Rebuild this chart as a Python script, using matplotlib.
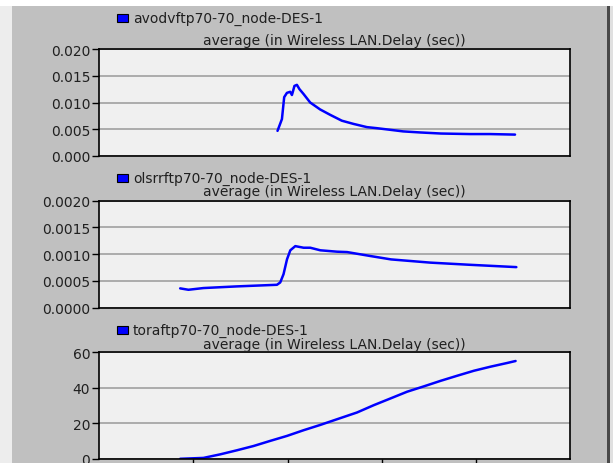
import matplotlib
matplotlib.use("Agg")
import matplotlib.pyplot as plt
from matplotlib.patches import Rectangle

# ---- data (x in arbitrary sim-time units, axis 0..5) ----
aodv_x = [1.893, 1.94, 1.964, 1.993, 2.028, 2.046, 2.056, 2.073, 2.099, 2.126, 2.169,
          2.24, 2.346, 2.452, 2.576, 2.70, 2.842, 2.948, 3.089, 3.227, 3.41, 3.63,
          3.94, 4.15, 4.416]
aodv_y = [0.0047, 0.0069, 0.0110, 0.0118, 0.0120, 0.0114, 0.0120, 0.0131, 0.0133, 0.0125,
          0.0116, 0.0100, 0.0087, 0.0077, 0.0066, 0.0060, 0.0054, 0.0052, 0.0049, 0.0046,
          0.0044, 0.0042, 0.0041, 0.0041, 0.0040]

olsr_x = [0.859, 0.947, 1.106, 1.462, 1.887, 1.922, 1.957, 1.994, 2.029, 2.082, 2.170,
          2.241, 2.348, 2.526, 2.632, 2.880, 3.099, 3.515, 3.930, 4.43]
olsr_y = [0.000359, 0.000333, 0.000365, 0.000396, 0.000426, 0.00047, 0.000624, 0.000902,
          0.00107, 0.001148, 0.001118, 0.001118, 0.00107, 0.001044, 0.001037, 0.000963,
          0.0009, 0.00084, 0.0008, 0.000756]

tora_x = [0.859, 1.106, 1.284, 1.462, 1.638, 1.816, 1.994, 2.170, 2.348, 2.526, 2.738,
          2.915, 3.093, 3.270, 3.447, 3.624, 3.802, 3.979, 4.156, 4.334, 4.422]
tora_y = [0.0, 0.5, 2.5, 4.8, 7.2, 10.1, 12.9, 16.1, 19.1, 22.3, 26.1, 30.2, 34.0, 37.8,
          40.8, 43.9, 46.8, 49.6, 51.9, 54.0, 55.1]

names = ["avodvftp70-70_node-DES-1", "olsrrftp70-70_node-DES-1", "toraftp70-70_node-DES-1"]
subtitle = "average (in Wireless LAN.Delay (sec))"
yticks = [[0, 0.005, 0.010, 0.015, 0.020],
          [0, 0.0005, 0.0010, 0.0015, 0.0020],
          [0, 20, 40, 60]]
yfmt = ["{:.3f}", "{:.4f}", "{:.0f}"]
series = [(aodv_x, aodv_y), (olsr_x, olsr_y), (tora_x, tora_y)]
xticks3 = [1, 2, 3, 4]

W, H = 613, 464
fig = plt.figure(figsize=(W / 100, H / 100), dpi=100, facecolor="white")
plt.rcParams['font.family'] = ['DejaVu Sans']

def fx(px):
    return px / W

def fy(py):
    return 1 - py / H

# background panels
fig.patches.append(Rectangle((0, 0), fx(12), fy(7), transform=fig.transFigure,
                             facecolor="#ededed", edgecolor="none", zorder=-10))
fig.patches.append(Rectangle((fx(12), 0), fx(607) - fx(12), fy(7), transform=fig.transFigure,
                             facecolor="#c0c0c0", edgecolor="none", zorder=-10))
fig.patches.append(Rectangle((fx(607), 0), fx(3), fy(7), transform=fig.transFigure,
                             facecolor="#4a4a4a", edgecolor="none", zorder=-10))
fig.patches.append(Rectangle((fx(610), 0), fx(3), fy(7), transform=fig.transFigure,
                             facecolor="#e0e0e0", edgecolor="none", zorder=-10))

tops = [50, 201.5, 353.3]
bots = [157, 308.6, 459.8]
leg_y = [19, 178.5, 330.5]
tit_y = [41.5, 192.5, 345]
left, right = 99.3, 570

for i in range(3):
    ax = fig.add_axes([fx(left), fy(bots[i]), fx(right - left), (bots[i] - tops[i]) / H])
    ax.set_facecolor("#f0f0f0")
    ax.set_xlim(0, 5)
    ax.set_ylim(yticks[i][0], yticks[i][-1])
    ax.set_yticks(yticks[i])
    ax.set_yticklabels([yfmt[i].format(v) for v in yticks[i]])
    ax.grid(axis="y", color="#a0a0a0", lw=1.2)
    ax.set_axisbelow(True)
    for s in ax.spines.values():
        s.set_color("black")
        s.set_linewidth(1.2)
    ax.tick_params(axis="y", direction="out", length=5, width=1, pad=1.5,
                   labelsize=10, labelcolor="#202020")
    if i == 2:
        ax.set_xticks(xticks3)
        ax.set_xticklabels([])
        ax.tick_params(axis="x", direction="out", length=8, width=1)
    else:
        ax.set_xticks([])
    x, y = series[i]
    ax.plot(x, y, color="#0000ff", lw=1.8, solid_capstyle="round")

    fig.patches.append(Rectangle((fx(117), fy(leg_y[i] + 4)), fx(11), 8 / H,
                                 transform=fig.transFigure, facecolor="#0000ff",
                                 edgecolor="black", lw=0.8))
    fig.text(fx(133), fy(leg_y[i]), names[i], ha="left", va="center", fontsize=10,
             color="#202020")
    fig.text(fx((left + right) / 2), fy(tit_y[i]), subtitle, ha="center", va="center",
             fontsize=10, color="#202020")

fig.savefig("out.png", dpi=100, facecolor=fig.get_facecolor())
